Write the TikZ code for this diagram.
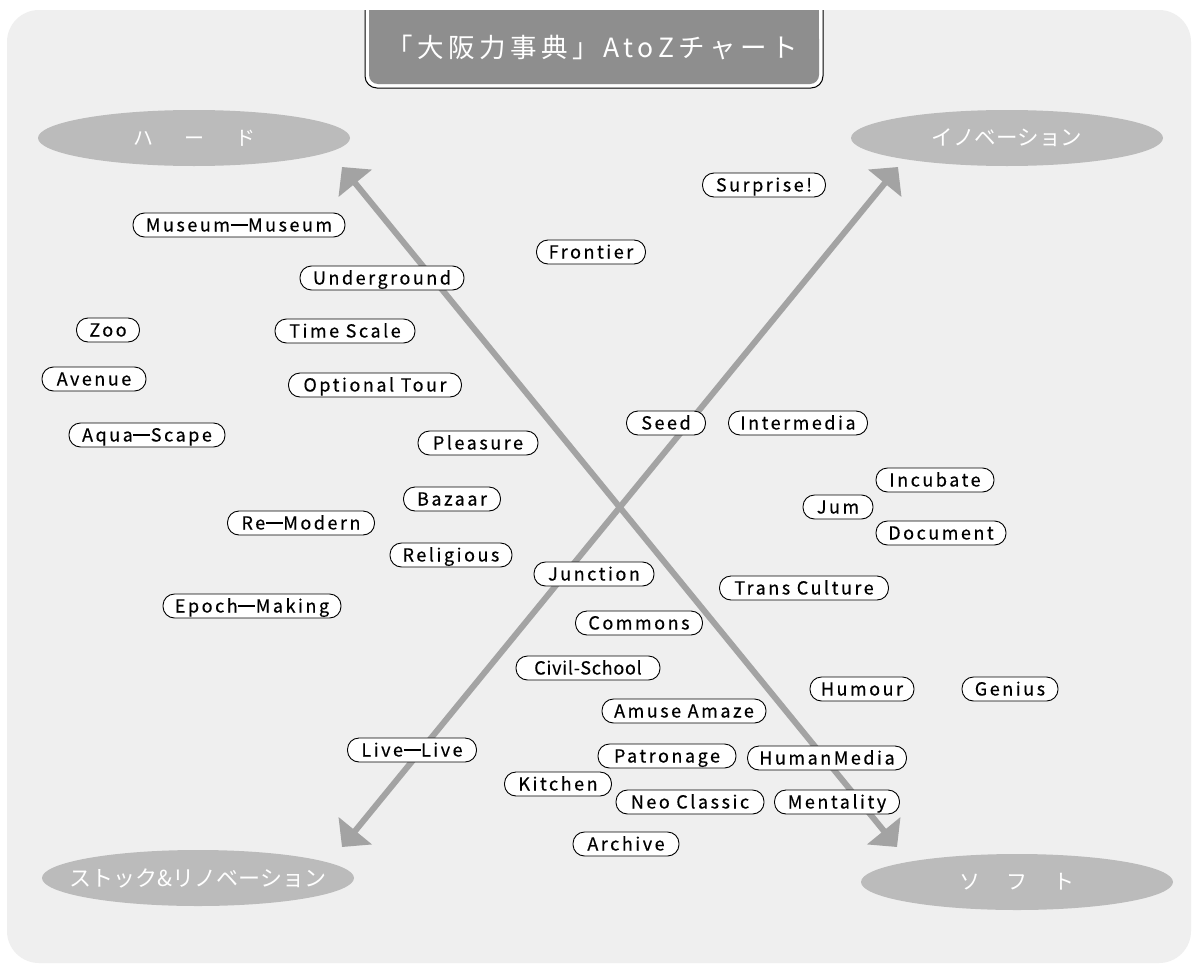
\documentclass[tikz,border=0pt]{standalone}
\usepackage{fontspec}
\setmainfont{Noto Sans CJK JP}
\newfontfamily\jp{Noto Sans CJK JP}
\newfontfamily\jpls[LetterSpace=14,FakeBold=0.4]{Noto Sans CJK JP}
\newfontfamily\jpsm[LetterSpace=4,FakeBold=0.4]{Noto Sans CJK JP}
\newfontfamily\jpti[LetterSpace=17]{Noto Sans CJK JP}
\usetikzlibrary{shapes.geometric,arrows.meta}
\definecolor{bgc}{HTML}{EFEFEF}
\definecolor{ellc}{HTML}{BBBBBB}
\definecolor{arrc}{HTML}{A3A3A3}
\definecolor{titc}{HTML}{8E8E8E}
\newcommand{\dsh}{\hspace{0.5pt}\rule[5.5pt]{17pt}{1.9pt}\hspace{0.5pt}}
\tikzset{
  pill/.style={draw=black, line width=0.9pt, fill=white, rounded corners=11.5pt,
    minimum height=24pt, inner xsep=4pt, inner ysep=0pt, text height=13pt, text depth=0pt,
    font=\jpls\fontsize{18}{18}\selectfont, anchor=center},
  ell/.style={ellipse, fill=ellc, draw=none, minimum width=312pt, minimum height=56pt,
    inner sep=0pt},
  elltext/.style={text=white, inner sep=0pt},
  axis/.style={draw=arrc, line width=6pt,
    {Triangle[length=21pt,width=42pt]}-{Triangle[length=21pt,width=42pt]}},
}
\begin{document}
\begin{tikzpicture}[x=1pt,y=-1pt]
\useasboundingbox (0,0) rectangle (1192,964);
\fill[white] (0,0) rectangle (1192,964);
% background panel
\fill[bgc, rounded corners=32pt] (7,10) rectangle (1191,963);
% title box
\filldraw[fill=white, draw=black, line width=1pt, rounded corners=12pt]
  (365,10) -- (365,88) -- (823,88) -- (823,10);
\fill[titc] (369,10) rectangle (819,60);
\fill[titc, rounded corners=9pt] (369,30) rectangle (819,84);
\node[text=white, font=\jpti\fontsize{26.5}{26.5}\selectfont] (title) at (592,47) {「大阪力事典」AtoZチャート};
% corner ellipses
\node[ell] (hard) at (194,138) {};
\node[elltext, font=\jp\fontsize{20}{20}\selectfont] (hardt) at (hard) {ハ\hspace{31pt}ー\hspace{31pt}ド};
\node[ell] (inno) at (1007,138) {};
\node[elltext, font=\jp\fontsize{21.5}{21.5}\selectfont] (innot) at (inno) {イノベーション};
\node[ell] (stock) at (198,878) {};
\node[elltext, font=\jp\fontsize{22}{22}\selectfont] (stockt) at (stock) {ストック\&リノベーション};
\node[ell] (soft) at (1017,882) {};
\node[elltext, font=\jp\fontsize{21}{21}\selectfont] (softt) at (soft) {ソ\hspace{26pt}フ\hspace{26pt}ト};
% axes
\coordinate (tipH) at (342,167);
\coordinate (tipS) at (897,847);
\coordinate (tipR) at (342,847);
\coordinate (tipI) at (898,167);
\draw[axis] (tipH) -- (tipS);
\draw[axis] (tipR) -- (tipI);
% labels
\node[pill, minimum width=123pt] (surprise) at (764,185) {Surprise!};
\node[pill, minimum width=212pt] (museum) at (239,225) {Museum\dsh Museum};
\node[pill, minimum width=109pt] (frontier) at (591,252) {Frontier};
\node[pill, minimum width=164pt] (underground) at (382,278) {Underground};
\node[pill, minimum width=63pt] (zoo) at (108,330) {Zoo};
\node[pill, minimum width=140pt] (timescale) at (345,331) {Time Scale};
\node[pill, minimum width=104pt] (avenue) at (94,379) {Avenue};
\node[pill, minimum width=173pt] (optional) at (375,385) {Optional Tour};
\node[pill, minimum width=79pt] (seed) at (666,423) {Seed};
\node[pill, minimum width=139pt] (intermedia) at (798,423) {Intermedia};
\node[pill, minimum width=156pt] (aqua) at (147,435) {Aqua\dsh Scape};
\node[pill, minimum width=120pt] (pleasure) at (478,443) {Pleasure};
\node[pill, minimum width=118pt] (incubate) at (935,480) {Incubate};
\node[pill, minimum width=97pt] (bazaar) at (452,499) {Bazaar};
\node[pill, minimum width=70pt] (jum) at (838,507) {Jum};
\node[pill, minimum width=147pt] (remodern) at (301,523) {Re\dsh Modern};
\node[pill, minimum width=130pt] (document) at (941,533) {Document};
\node[pill, minimum width=122pt] (religious) at (451,555) {Religious};
\node[pill, minimum width=120pt] (junction) at (594,574) {Junction};
\node[pill, minimum width=169pt] (trans) at (804,588) {Trans Culture};
\node[pill, minimum width=178pt] (epoch) at (252,606) {Epoch\dsh Making};
\node[pill, minimum width=127pt] (commons) at (639,623) {Commons};
\node[pill, minimum width=144pt, font=\jpsm\fontsize{18}{18}\selectfont] (civil) at (588,668) {Civil-School};
\node[pill, minimum width=104pt] (humour) at (862,689) {Humour};
\node[pill, minimum width=96pt] (genius) at (1010,689) {Genius};
\node[pill, minimum width=164pt] (amuse) at (684,711) {Amuse Amaze};
\node[pill, minimum width=129pt] (live) at (412,750) {Live\dsh Live};
\node[pill, minimum width=138pt] (patronage) at (667,756) {Patronage};
\node[pill, minimum width=159pt] (humanmedia) at (827,758) {HumanMedia};
\node[pill, minimum width=107pt] (kitchen) at (558,784) {Kitchen};
\node[pill, minimum width=148pt] (neo) at (690,802) {Neo Classic};
\node[pill, minimum width=125pt] (mentality) at (837,802) {Mentality};
\node[pill, minimum width=106pt] (archive) at (626,844) {Archive};
\end{tikzpicture}
\end{document}
